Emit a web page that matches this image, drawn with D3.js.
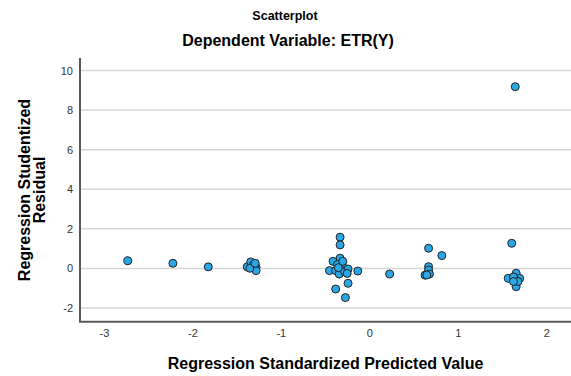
<!DOCTYPE html>
<html>
<head>
<meta charset="utf-8">
<script src="https://cdn.jsdelivr.net/npm/d3@7"></script>
<style>
  body { margin: 0; background: #fff; }
  svg { display: block; font-family: "Liberation Sans", Arial, sans-serif; }
</style>
</head>
<body>
<div id="chart"></div>
<script>
// Regression Standardized Predicted Value
var predicted = [
  -2.73, -2.22, -1.82, -1.38, -1.34, -1.31, -1.28, -1.28, -1.35, -1.29,
  -0.33, -0.33, -0.33, -0.41, -0.45, -0.38, -0.31, -0.30, -0.31, -0.34,
  -0.28, -0.24, -0.25, -0.13, -0.38, -0.24, -0.27, -0.36, -0.30, -0.35,
  0.23,
  0.67, 0.82, 0.67, 0.67, 0.63, 0.68, 0.65,
  1.65, 1.61, 1.57, 1.66, 1.70, 1.65, 1.63, 1.66, 1.68, 1.63
];
// Regression Studentized Residual
var residual = [
  0.39, 0.26, 0.08, 0.08, 0.33, 0.18, 0.06, -0.11, 0.01, 0.26,
  1.58, 1.19, 0.52, 0.36, -0.11, -0.11, 0.26, 0.09, -0.11, -0.28,
  -0.16, -0.03, -0.25, -0.13, -1.04, -0.75, -1.47, 0.20, 0.36, 0.04,
  -0.28,
  1.02, 0.65, 0.09, -0.08, -0.34, -0.28, -0.33,
  9.18, 1.27, -0.50, -0.24, -0.50, -0.58, -0.43, -0.92, -0.66, -0.66
];
var xTicks = [-3, -2, -1, 0, 1, 2];
var yTicks = [-2, 0, 2, 4, 6, 8, 10];

var width = 571, height = 376;
var margin = {top: 58, right: 0, bottom: 54.3, left: 80};

var svg = d3.select("#chart")
  .append("svg")
    .attr("width", width)
    .attr("height", height);

var x = d3.scaleLinear()
  .domain([-3.27, 2.28])
  .range([margin.left, width - margin.right]);

var y = d3.scaleLinear()
  .domain([-2.69, 10.63])
  .range([height - margin.bottom, margin.top]);

// plain hyphen minus like the original
var fmt = function(d) { return String(d); };

// titles
svg.append("text")
  .attr("x", 285).attr("y", 20)
  .attr("text-anchor", "middle")
  .style("font-size", "12.5px").style("font-weight", "bold")
  .text("Scatterplot");

svg.append("text")
  .attr("x", 288).attr("y", 46)
  .attr("text-anchor", "middle")
  .style("font-size", "16px").style("font-weight", "bold")
  .text("Dependent Variable: ETR(Y)");

// gridlines
svg.append("g")
  .selectAll("line")
  .data(yTicks)
  .enter()
  .append("line")
    .attr("x1", x.range()[0])
    .attr("x2", x.range()[1])
    .attr("y1", function(d) { return y(d); })
    .attr("y2", function(d) { return y(d); })
    .attr("stroke", "#d6d6d6")
    .attr("stroke-width", 1.5);

// y axis
var yAxis = svg.append("g")
  .attr("transform", "translate(" + margin.left + ",0)")
  .call(d3.axisLeft(y).tickValues(yTicks).tickFormat(fmt).tickSize(0).tickPadding(7));
yAxis.select(".domain").remove();
yAxis.selectAll("text")
  .style("font-size", "11px").attr("fill", "#333");

// x axis
var xAxis = svg.append("g")
  .attr("transform", "translate(0," + (height - margin.bottom) + ")")
  .call(d3.axisBottom(x).tickValues(xTicks).tickFormat(fmt).tickSize(0).tickPadding(8));
xAxis.select(".domain").remove();
xAxis.selectAll("text")
  .style("font-size", "11px").attr("fill", "#333");

// axis lines
svg.append("path")
  .attr("d", "M" + margin.left + "," + margin.top +
             "V" + (height - margin.bottom) + "H" + width)
  .attr("fill", "none")
  .attr("stroke", "#595959")
  .attr("stroke-width", 2);

// points
svg.append("g")
  .selectAll("circle")
  .data(d3.range(predicted.length))
  .enter()
  .append("circle")
    .attr("cx", function(i) { return x(predicted[i]); })
    .attr("cy", function(i) { return y(residual[i]); })
    .attr("r", 4)
    .attr("fill", "#2aa7e6")
    .attr("stroke", "#222")
    .attr("stroke-width", 1);

// axis titles
svg.append("text")
  .attr("x", (x.range()[0] + x.range()[1]) / 2)
  .attr("y", 369)
  .attr("text-anchor", "middle")
  .style("font-size", "16px").style("font-weight", "bold")
  .text("Regression Standardized Predicted Value");

var yt = svg.append("text")
  .attr("transform", "translate(30,190) rotate(-90)")
  .attr("text-anchor", "middle")
  .style("font-size", "16px").style("font-weight", "bold");
yt.append("tspan").attr("x", 0).attr("dy", 0).text("Regression Studentized");
yt.append("tspan").attr("x", 0).attr("dy", 15).text("Residual");
</script>
</body>
</html>
